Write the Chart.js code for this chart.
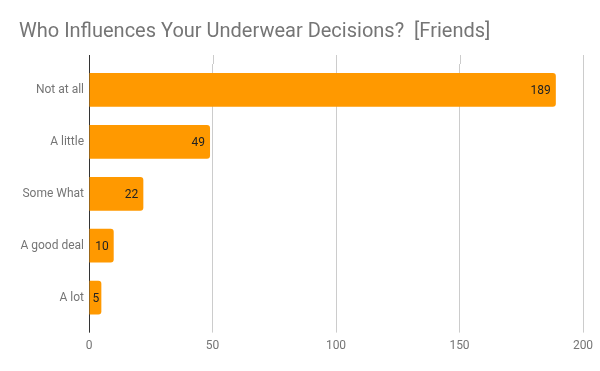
<!DOCTYPE html>
<html>
<head>
<meta charset="utf-8">
<script src="https://cdn.jsdelivr.net/npm/chart.js@4/dist/chart.umd.min.js"></script>
<style>
  html, body { margin: 0; padding: 0; background: #fff; }
  #wrap { width: 600px; height: 371px; }
</style>
</head>
<body>
<div id="wrap"><canvas id="grafico"></canvas></div>
<script>
const categorias = ['Not at all', 'A little', 'Some What', 'A good deal', 'A lot'];
const respostas = [189, 49, 22, 10, 5];
const ticksX = [0, 50, 100, 150, 200];

// grid lines stick out a bit above the plot, like the original
const gradeExtra = {
  id: 'gradeExtra',
  beforeDatasetsDraw(chart) {
    const ctx = chart.ctx, area = chart.chartArea, x = chart.scales.x;
    ctx.save();
    ctx.lineWidth = 1;
    ticksX.forEach(v => {
      const px = Math.round(x.getPixelForValue(v)) + 0.5;
      ctx.strokeStyle = v === 0 ? '#333333' : '#cccccc';
      ctx.beginPath();
      ctx.moveTo(px, area.top - 9);
      ctx.lineTo(px, v === 0 ? area.bottom + 9 : area.top);
      ctx.stroke();
    });
    ctx.restore();
  }
};

// value labels inside the end of each bar
const rotulos = {
  id: 'rotulos',
  afterDatasetsDraw(chart) {
    const ctx = chart.ctx;
    const meta = chart.getDatasetMeta(0);
    ctx.save();
    ctx.font = '12px Roboto';
    ctx.fillStyle = '#222222';
    ctx.textAlign = 'right';
    ctx.textBaseline = 'middle';
    meta.data.forEach((bar, i) => {
      const w = bar.x - bar.base;
      if (w > 20) {
        ctx.fillText(respostas[i], bar.x - 5, bar.y + 1);
      } else {
        ctx.textAlign = 'left';
        ctx.fillText(respostas[i], bar.base + 3, bar.y + 1);
        ctx.textAlign = 'right';
      }
    });
    ctx.restore();
  }
};

let grafico = new Chart(document.getElementById('grafico').getContext('2d'), {
  type: 'bar',
  data: {
    labels: categorias,
    datasets: [{
      label: 'Friends',
      data: respostas,
      backgroundColor: '#ff9900',
      borderRadius: 3,
      borderSkipped: 'start',
      barPercentage: 0.65,
      categoryPercentage: 1
    }]
  },
  options: {
    indexAxis: 'y',
    responsive: true,
    maintainAspectRatio: false,
    animation: false,
    layout: { padding: { left: 19, right: 17, top: 0, bottom: 12 } },
    plugins: {
      legend: { display: false },
      tooltip: { enabled: false },
      title: {
        display: true,
        text: 'Who Influences Your Underwear Decisions?  [Friends]',
        align: 'start',
        color: '#757575',
        font: { family: 'Roboto', size: 20, weight: 'normal' },
        padding: { top: 20, bottom: 20 }
      }
    },
    scales: {
      x: {
        min: 0,
        max: 200,
        afterBuildTicks(axis) { axis.ticks = ticksX.map(v => ({ value: v })); },
        grid: { color: '#cccccc', tickColor: '#cccccc', tickLength: 9, drawOnChartArea: true },
        border: { display: false },
        ticks: { color: '#757575', font: { family: 'Roboto', size: 12 }, padding: 6 }
      },
      y: {
        grid: { display: false, drawTicks: false, tickLength: 0 },
        border: { display: true, color: '#333333', width: 1 },
        ticks: { color: '#757575', font: { family: 'Roboto', size: 12 }, padding: 5 },
        afterFit(axis) { axis.width = 70; }
      }
    }
  },
  plugins: [gradeExtra, rotulos]
});
</script>
</body>
</html>
